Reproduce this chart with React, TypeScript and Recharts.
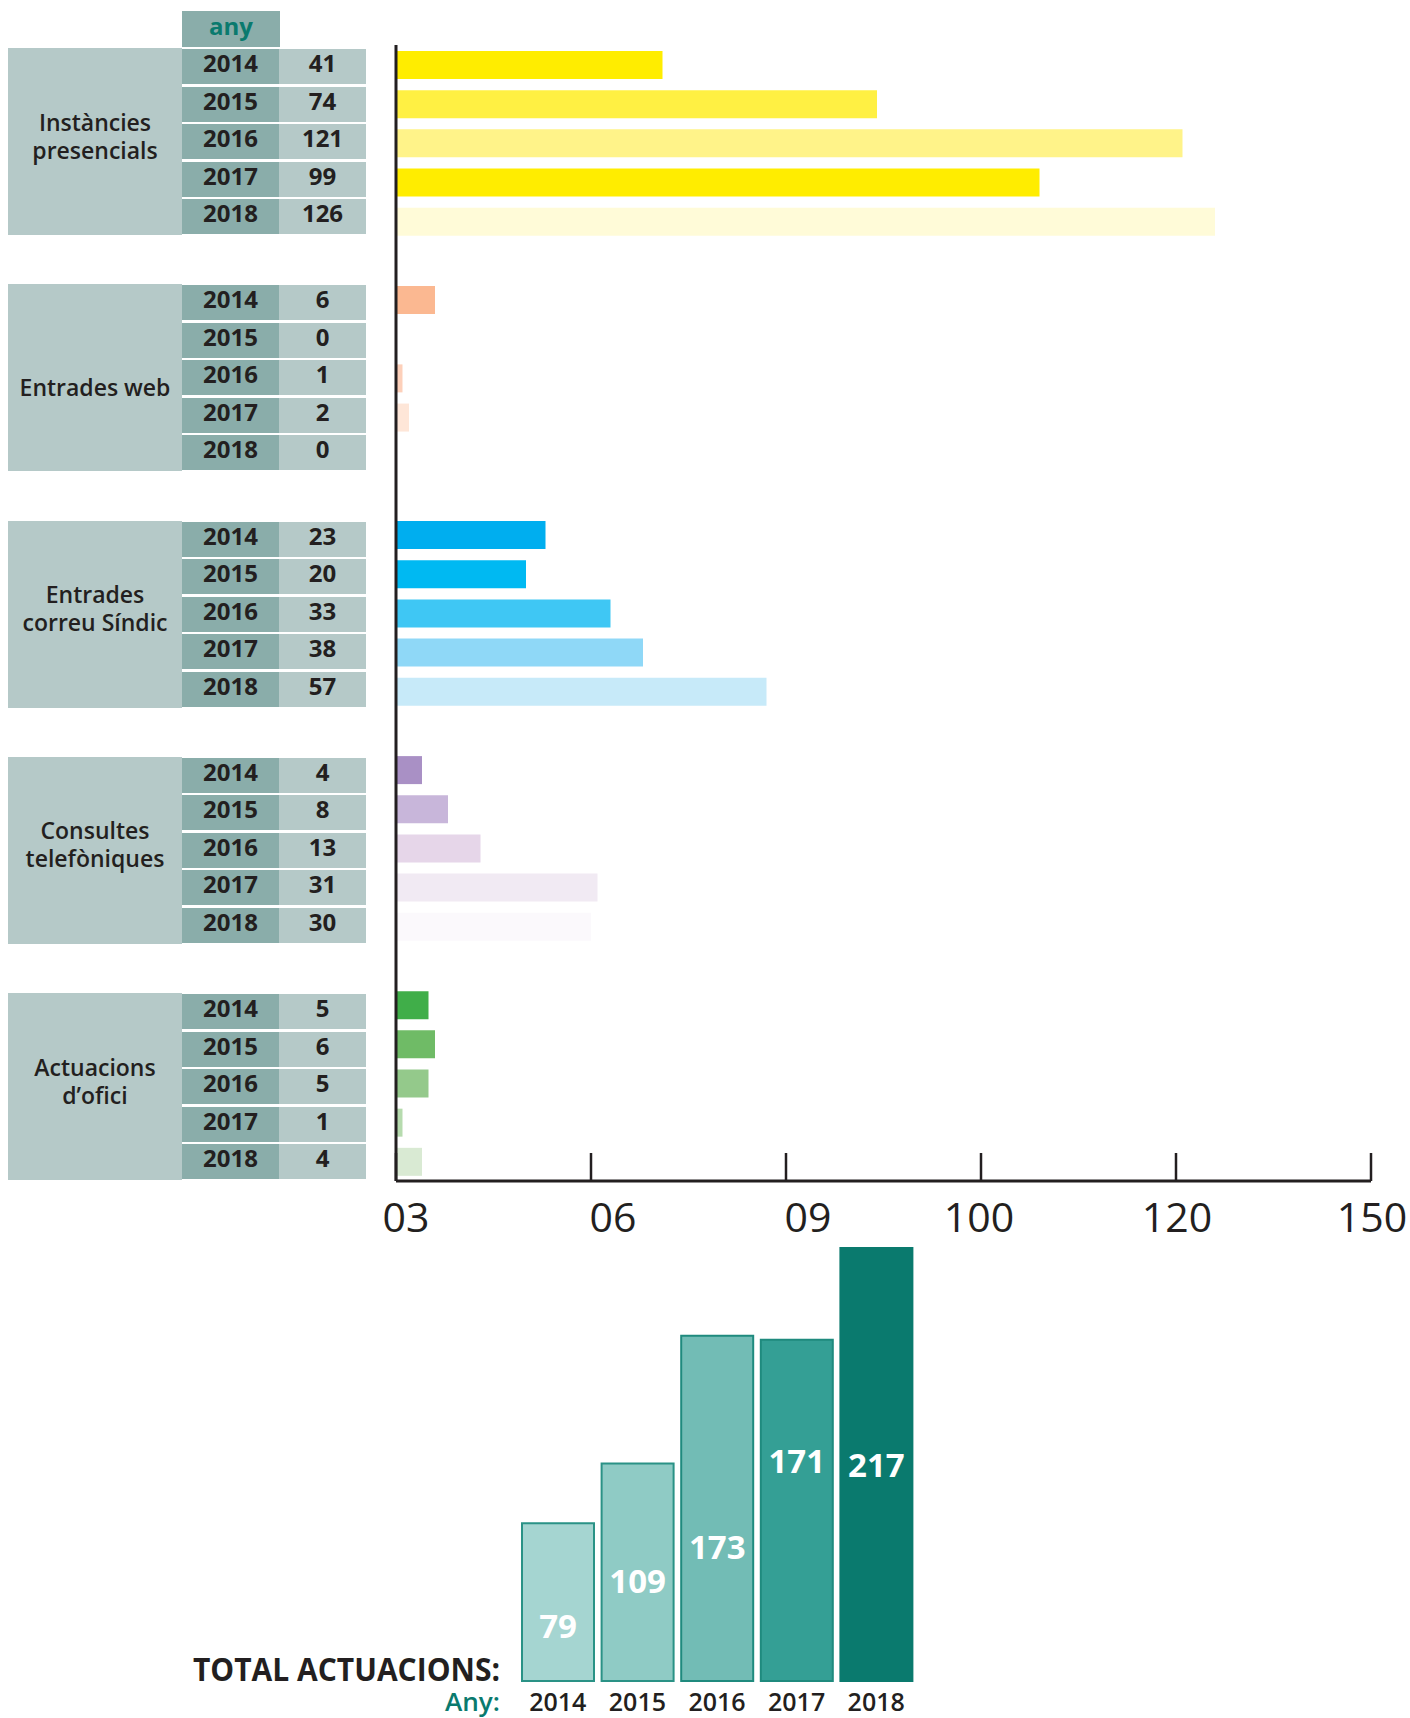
import React from "react";
import { BarChart, Bar, XAxis, YAxis, Cell, LabelList } from "recharts";

// data
const GROUP_LABELS = [
  "Instàncies\npresencials",
  "Entrades web",
  "Entrades\ncorreu Síndic",
  "Consultes\ntelefòniques",
  "Actuacions\nd’ofici",
];
const YEARS = ["2014", "2015", "2016", "2017", "2018"];
const INSTANCIES = [41, 74, 121, 99, 126];
const WEB = [6, 0, 1, 2, 0];
const CORREU = [23, 20, 33, 38, 57];
const TELEFON = [4, 8, 13, 31, 30];
const OFICI = [5, 6, 5, 1, 4];
const TOTALS = [79, 109, 173, 171, 217];
const X_TICKS = [0, 30, 60, 90, 120, 150];
const X_TICK_LABELS = ["03", "06", "09", "100", "120", "150"];

const GROUP_VALUES = [INSTANCIES, WEB, CORREU, TELEFON, OFICI];

// styles
const GROUP_COLORS = [
  ["#ffed00", "#fff043", "#fff389", "#ffed00", "#fffbd8"],
  ["#fbb891", "#fcc4a6", "#fdd0ba", "#fee6d8", "#fff2ea"],
  ["#00aeef", "#00b9f2", "#3fc7f4", "#8fd8f7", "#c7eaf9"],
  ["#a990c5", "#c8b6da", "#e6d6e9", "#f1eaf3", "#fbf9fc"],
  ["#40ae49", "#6fbb66", "#94c98b", "#b6dbae", "#d9ead3"],
];
const TOTAL_COLORS = ["#a5d5d1", "#8fcbc5", "#72bcb5", "#349f95", "#0a7a6e"];
const TOTAL_STROKES = ["#2a9286", "#2a9286", "#1f8a7e", "#1f8a7e", "#0a7a6e"];
const TICK_DX = [10, 22, 22, -2, 1, 1];
const LABEL_FRAC = [0.65, 0.54, 0.61, 0.355, 0.5];

const INK = "#231f20";
const TEAL = "#0a7a6e";
const BOX = "#b5c9c8";
const YEAR_BG = "#8aadaa";
const FONT = "'Open Sans', sans-serif";

const rows: any[] = [];
GROUP_VALUES.forEach((vals, g) => {
  vals.forEach((v, i) => {
    rows.push({ key: `${g}-${YEARS[i]}`, value: v, color: GROUP_COLORS[g][i] });
  });
  if (g < GROUP_VALUES.length - 1) rows.push({ key: `gap-${g}`, value: null, color: "none" });
});

const totals = YEARS.map((year, i) => ({ year, total: TOTALS[i] }));

const UpperTick = (props: any) => {
  const { x, y, index } = props;
  return (
    <g>
      <line x1={x} x2={x} y1={y} y2={y - 28} stroke={INK} strokeWidth={2.5} />
      <text
        x={x + TICK_DX[index]}
        y={y + 51}
        textAnchor="middle"
        fontFamily={FONT}
        fontSize={41}
        fill={INK}
      >
        {X_TICK_LABELS[index]}
      </text>
    </g>
  );
};

const YearTick = (props: any) => {
  const { x, y, payload } = props;
  return (
    <text x={x} y={y + 30} textAnchor="middle" fontFamily={FONT} fontSize={25} fontWeight={600} fill={INK}>
      {payload.value}
    </text>
  );
};

const TotalLabel = (props: any) => {
  const { x, y, width, height, value, index } = props;
  return (
    <text
      x={x + width / 2}
      y={y + height * LABEL_FRAC[index]}
      textAnchor="middle"
      dominantBaseline="central"
      fontFamily={FONT}
      fontSize={33}
      fontWeight={700}
      fill="#ffffff"
    >
      {value}
    </text>
  );
};

const cell: React.CSSProperties = {
  position: "absolute",
  display: "flex",
  alignItems: "center",
  justifyContent: "center",
  boxSizing: "border-box",
  paddingBottom: 8,
  fontFamily: FONT,
  fontWeight: 700,
  fontSize: 24,
  color: INK,
};

export default function App() {
  return (
    <div style={{ position: "absolute", left: 0, top: 0, width: 1410, height: 1718, background: "#fff" }}>
      {/* table */}
      <div style={{ ...cell, left: 182, top: 11, width: 98, height: 36, background: YEAR_BG, color: TEAL }}>any</div>
      {GROUP_LABELS.map((label, g) => {
        const top = 48 + g * 236.3;
        const twoLines = label.includes("\n");
        return (
          <React.Fragment key={label}>
            <div
              style={{
                ...cell,
                left: 8,
                top,
                width: 174,
                height: 187,
                paddingBottom: 0,
                background: BOX,
                fontWeight: 600,
                fontSize: 23,
                lineHeight: "28px",
                whiteSpace: "pre-line",
                textAlign: "center",
              }}
            >
              <span style={{ position: "relative", top: twoLines ? -6 : 9 }}>{label}</span>
            </div>
            {YEARS.map((year, r) => (
              <React.Fragment key={year}>
                <div style={{ ...cell, left: 182, top: top + 1 + r * 37.5, width: 97, height: 35, background: YEAR_BG }}>
                  {year}
                </div>
                <div style={{ ...cell, left: 279, top: top + 1 + r * 37.5, width: 87, height: 35, background: BOX }}>
                  {GROUP_VALUES[g][r]}
                </div>
              </React.Fragment>
            ))}
          </React.Fragment>
        );
      })}

      {/* horizontal bars */}
      <div style={{ position: "absolute", left: 0, top: 0 }}>
        <BarChart
          width={1410}
          height={1250}
          data={rows}
          layout="vertical"
          margin={{ top: 45, right: 39, left: 386, bottom: 9 }}
        >
          <XAxis
            type="number"
            domain={[0, 150]}
            ticks={X_TICKS}
            height={60}
            tickSize={0}
            tickMargin={0}
            tickLine={false}
            axisLine={{ stroke: INK, strokeWidth: 3 }}
            tick={<UpperTick />}
            interval={0}
          />
          <YAxis
            type="category"
            dataKey="key"
            width={10}
            tick={false}
            tickLine={false}
            axisLine={{ stroke: INK, strokeWidth: 3 }}
          />
          <Bar dataKey="value" barSize={28} isAnimationActive={false}>
            {rows.map((r) => (
              <Cell key={r.key} fill={r.color} />
            ))}
          </Bar>
        </BarChart>
      </div>

      {/* totals */}
      <div style={{ position: "absolute", left: 0, top: 1230 }}>
        <BarChart
          width={1410}
          height={488}
          data={totals}
          margin={{ top: 18, right: 494, left: 518, bottom: 0 }}
          barCategoryGap={0}
        >
          <XAxis
            dataKey="year"
            height={37}
            tickSize={0}
            tickMargin={0}
            axisLine={false}
            tickLine={false}
            tick={<YearTick />}
            interval={0}
          />
          <YAxis hide domain={[0, 217]} />
          <Bar dataKey="total" barSize={72} isAnimationActive={false}>
            {totals.map((t, i) => (
              <Cell key={t.year} fill={TOTAL_COLORS[i]} stroke={TOTAL_STROKES[i]} strokeWidth={2} />
            ))}
            <LabelList dataKey="total" content={<TotalLabel />} />
          </Bar>
        </BarChart>
      </div>

      <svg
        width={1410}
        height={1718}
        style={{ position: "absolute", left: 0, top: 0, pointerEvents: "none" }}
      >
        <text
          x={193}
          y={1681}
          fontFamily={FONT}
          fontSize={33}
          fontWeight={700}
          fill={INK}
          textLength={307}
          lengthAdjust="spacingAndGlyphs"
        >
          TOTAL ACTUACIONS:
        </text>
        <text
          x={445}
          y={1711}
          fontFamily={FONT}
          fontSize={25}
          fontWeight={600}
          fill={TEAL}
          textLength={55}
          lengthAdjust="spacingAndGlyphs"
        >
          Any:
        </text>
      </svg>
    </div>
  );
}
